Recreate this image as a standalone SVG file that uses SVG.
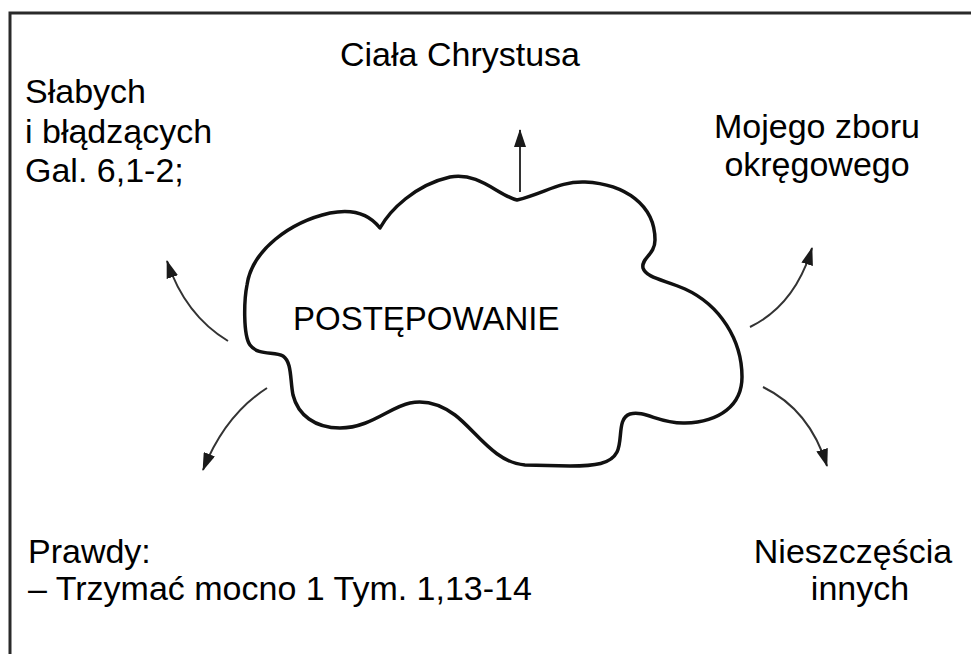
<svg xmlns="http://www.w3.org/2000/svg" width="971" height="654" viewBox="0 0 971 654">
  <style>
    .frame { fill: none; stroke: #2a2a2a; stroke-width: 3; }
    .cloud { fill: #ffffff; stroke: #111111; stroke-width: 3.5; stroke-linejoin: round; }
    .arrow { fill: none; stroke: #333333; stroke-width: 2; }
    .label { font-family: "Liberation Sans", Arial, sans-serif; font-size: 34px; fill: #000000; }
    .mid { text-anchor: middle; }
  </style>
  <defs>
    <marker id="head" viewBox="0 0 18 12" refX="17" refY="6" markerWidth="18" markerHeight="12" markerUnits="userSpaceOnUse" orient="auto">
      <path d="M0,0 L18,6 L0,12 Z" fill="#1a1a1a"/>
    </marker>
  </defs>
  <rect width="971" height="654" fill="#ffffff"/>

  <!-- outer frame: top and left edges only -->
  <path class="frame" d="M10,660 L10,13 L975,13"/>

  <g id="cloud">
    <path class="cloud" d="M517,200 C545,193 560,181 585,182 C625,184 655,205 655,240 C655,255 641,258 643,268 C646,278 665,280 685,289 C720,305 742,340 742,377 C742,405 720,422 685,423 C660,424 645,410 630,414 C617,418 623,440 617,452 C611,464 595,466 570,466 L525,465 C495,463 475,430 455,415 C440,404 425,400 410,403 C390,407 370,428 340,428 C315,428 298,415 293,395 C290,380 292,362 283,356 C275,351 258,356 250,345 C243,335 244,300 247,285 C252,250 290,222 330,213 C355,208 370,215 380,228 C390,210 415,185 450,177 C480,172 497,195 517,200 Z"/>
    <text class="label" x="293" y="330" style="font-size:33px">POSTĘPOWANIE</text>
  </g>

  <g id="connectors">
    <path class="arrow" d="M520,192 L520,130" marker-end="url(#head)"/>
    <path class="arrow" d="M228,341 Q185,315 167,261" marker-end="url(#head)"/>
    <path class="arrow" d="M267,388 Q225,415 203,470" marker-end="url(#head)"/>
    <path class="arrow" d="M750,327 Q795,305 812,248" marker-end="url(#head)"/>
    <path class="arrow" d="M763,387 Q810,410 827,466" marker-end="url(#head)"/>
  </g>

  <g id="top">
    <text class="label mid" x="460" y="66">Ciała Chrystusa</text>
  </g>

  <g id="top-left">
    <text class="label" x="25" y="103">Słabych</text>
    <text class="label" x="25" y="143">i błądzących</text>
    <text class="label" x="25" y="182">Gal. 6,1-2;</text>
  </g>

  <g id="top-right">
    <text class="label mid" x="817" y="138">Mojego zboru</text>
    <text class="label mid" x="817" y="176">okręgowego</text>
  </g>

  <g id="bottom-left">
    <text class="label" x="28" y="563">Prawdy:</text>
    <text class="label" x="28" y="600">– Trzymać mocno 1 Tym. 1,13-14</text>
  </g>

  <g id="bottom-right">
    <text class="label mid" x="853" y="563">Nieszczęścia</text>
    <text class="label mid" x="860" y="600">innych</text>
  </g>
</svg>
